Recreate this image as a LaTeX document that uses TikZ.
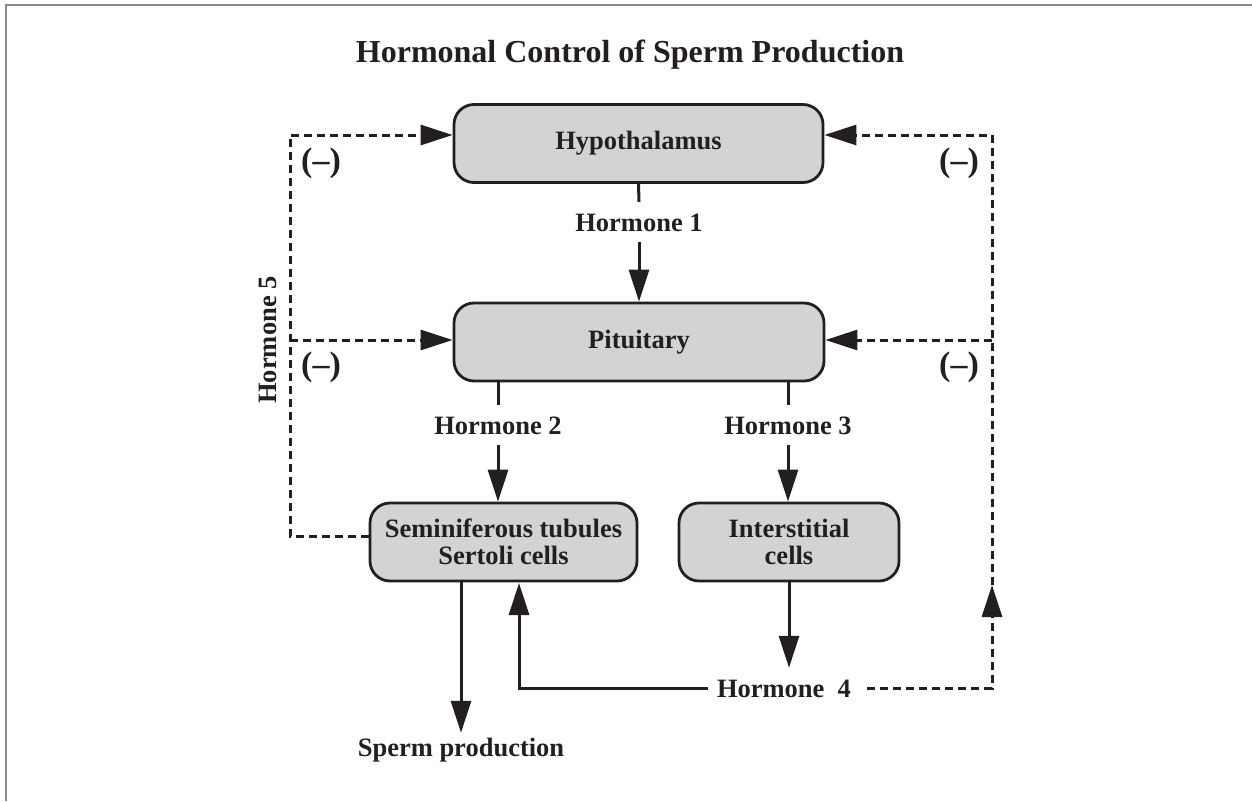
\documentclass[tikz,border=0pt]{standalone}
\usepackage{fontspec}
\setmainfont{Liberation Serif}
\usetikzlibrary{arrows.meta}
\definecolor{boxgray}{HTML}{D1D3D4}
\definecolor{ink}{HTML}{231F20}
\definecolor{framegray}{HTML}{8A8A8A}
\begin{document}
\begin{tikzpicture}[x=1pt,y=-1pt,
  every node/.style={text=ink, font=\fontsize{26.5}{27.5}\selectfont\bfseries},
  organ/.style={draw=ink, fill=boxgray, line width=2.8pt, rounded corners=20pt,
    minimum height=78pt, align=center, inner sep=0pt},
  hlabel/.style={text height=18pt, text depth=0pt, inner xsep=8pt, inner ysep=11pt},
  conn/.style={draw=ink, line width=3pt},
  arr/.style={-{Triangle[length=32pt,width=20pt]}},
  fbline/.style={dash pattern=on 8pt off 5pt},
  minus/.style={font=\fontsize{34}{36}\selectfont\bfseries}
]
\useasboundingbox (0,0) rectangle (1252,801);
\draw[framegray, line width=2pt] (6,801) -- (6,5) -- (1252,5);

% title
\node[font=\fontsize{32}{36}\selectfont\bfseries] (title) at (630,55) {Hormonal Control of Sperm Production};

% organs
\node[organ, minimum width=369pt] (hyp) at (638.5,143.5) {Hypothalamus};
\node[organ, minimum width=370pt] (pit) at (639,342) {Pituitary};
\node[organ, minimum width=267pt] (sem) at (503.5,542) {Seminiferous tubules\\Sertoli cells};
\node[organ, minimum width=220pt] (int) at (789,542) {Interstitial\\cells};

% hormone labels
\node[hlabel] (h1) at (639,222) {Hormone 1};
\node[hlabel] (h2) at (498,425) {Hormone 2};
\node[hlabel] (h3) at (788,425) {Hormone 3};
\node[hlabel, inner xsep=9pt] (h4) at (784,688) {Hormone\ \ 4};
\node[rotate=90] (h5) at (268,340) {Hormone 5};
\node[text height=18pt, text depth=0pt, inner ysep=5pt] (sperm) at (461,747) {Sperm production};

% (-) labels
\node[minus] (m1) at (321,163) {(–)};
\node[minus] (m2) at (959,163) {(–)};
\node[minus] (m3) at (321,367) {(–)};
\node[minus] (m4) at (959,367) {(–)};

% coordinates
\coordinate (semin) at (519,583);
\coordinate (rarrow) at (992,585);
\coordinate (rtop) at (992,135);
\coordinate (rmid) at (992,340);
\coordinate (lbot) at (290,536);
\coordinate (ltop) at (290,135);
\coordinate (lmid) at (290,340);

% solid connectors
\draw[conn] (hyp.south) -- (h1.north);
\draw[conn, arr] (h1.south) -- (pit.north);
\draw[conn] (h2.north |- pit.south) -- (h2.north);
\draw[conn, arr] (h2.south) -- (h2.south |- sem.north);
\draw[conn] (h3.north |- pit.south) -- (h3.north);
\draw[conn, arr] (h3.south) -- (h3.south |- int.north);
\draw[conn, arr] (int.south) -- (int.south |- h4.north);
\draw[conn, arr] (h4.west) -| (semin);
\draw[conn, arr] (sperm.north |- sem.south) -- (sperm.north);

% dashed feedback
\draw[conn, fbline, arr, shorten <=7pt] (h4.east) -| (rarrow);
\draw[conn, fbline, arr] (rarrow) -- (rtop) -- (rtop -| hyp.east);
\draw[conn, fbline, arr] (rmid) -- (rmid -| pit.east);
\draw[conn, fbline, arr] (sem.west |- lbot) -- (lbot) -- (ltop) -- (ltop -| hyp.west);
\draw[conn, fbline, arr] (lmid) -- (lmid -| pit.west);
\end{tikzpicture}
\end{document}
